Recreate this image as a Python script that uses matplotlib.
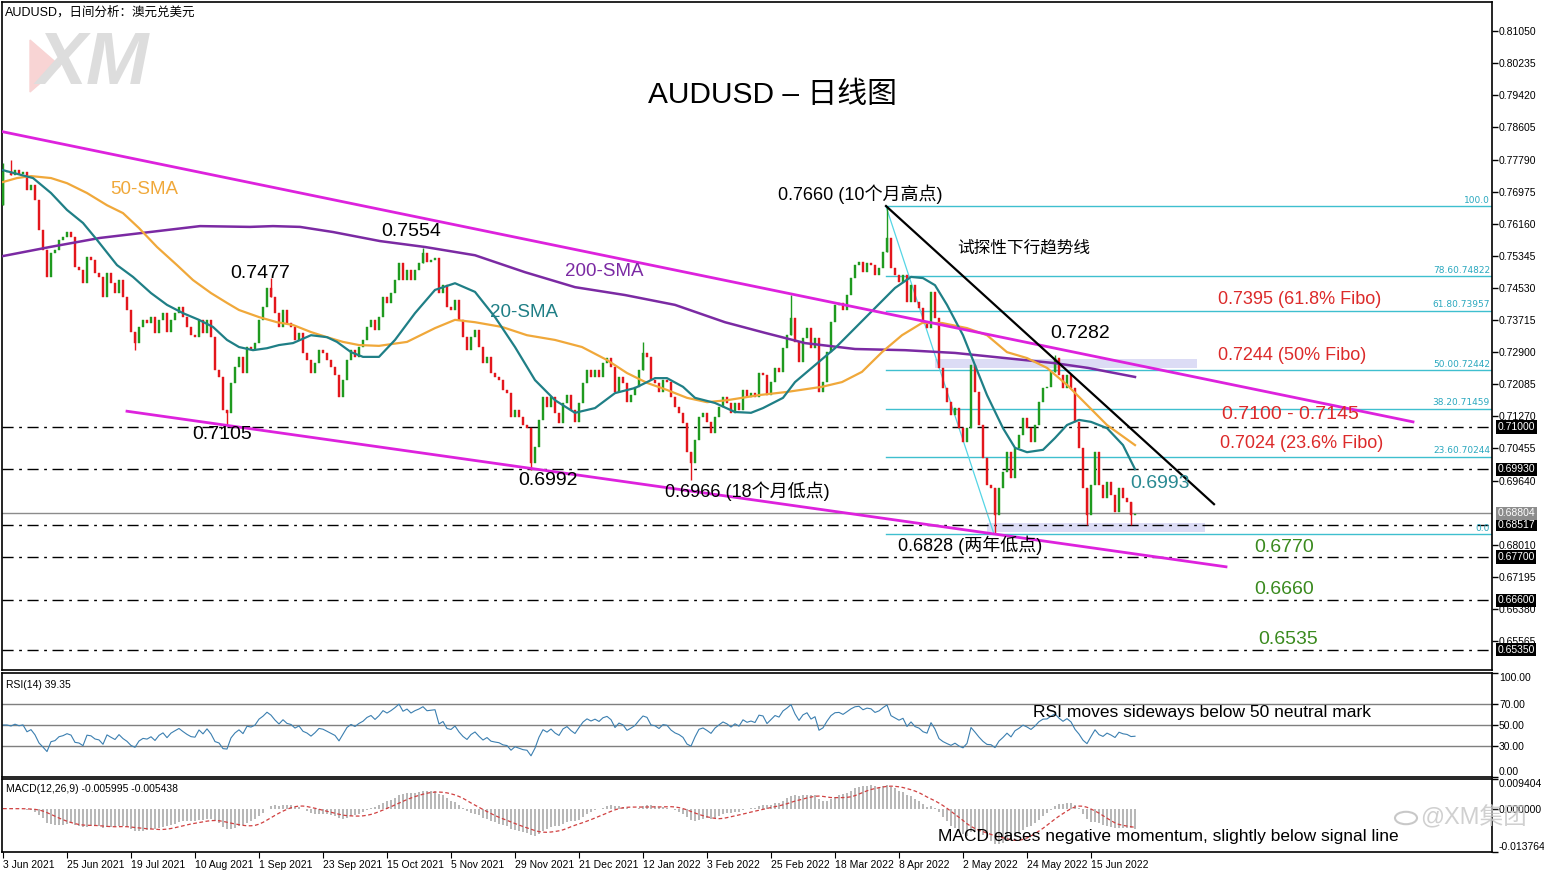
import numpy as np
import pandas as pd
import matplotlib
matplotlib.use("Agg")
import matplotlib.pyplot as plt
from matplotlib.patches import Rectangle, Polygon, Circle

plt.rcParams['font.family'] = ['Liberation Sans', 'Noto Sans CJK SC', 'DejaVu Sans']

# ---------------- data ----------------
first_open = 0.7663
closes = [
0.7747,0.7747,0.7740,0.7752,0.7742,0.7747,0.7702,0.7714,0.7676,0.7600,
0.7549,0.7481,0.7542,0.7549,0.7575,0.7582,0.7595,0.7582,0.7506,0.7498,
0.7465,0.7531,0.7524,0.7491,0.7481,0.7430,0.7491,0.7465,0.7440,0.7473,
0.7430,0.7397,0.7341,0.7313,0.7354,0.7372,0.7364,0.7379,0.7339,0.7372,
0.7389,0.7341,0.7372,0.7389,0.7405,0.7379,0.7354,0.7333,0.7328,0.7372,
0.7339,0.7372,0.7328,0.7245,0.7227,0.7143,0.7136,0.7212,0.7252,0.7278,
0.7237,0.7303,0.7295,0.7313,0.7372,0.7405,0.7453,0.7430,0.7389,0.7354,
0.7397,0.7364,0.7354,0.7321,0.7339,0.7288,0.7270,0.7237,0.7262,0.7295,
0.7288,0.7270,0.7252,0.7232,0.7176,0.7219,0.7270,0.7295,0.7278,0.7303,
0.7321,0.7354,0.7372,0.7346,0.7379,0.7430,0.7415,0.7440,0.7473,0.7516,
0.7473,0.7498,0.7473,0.7498,0.7516,0.7542,0.7519,0.7524,0.7529,0.7440,
0.7460,0.7405,0.7397,0.7422,0.7372,0.7328,0.7295,0.7328,0.7346,0.7303,
0.7262,0.7278,0.7237,0.7227,0.7219,0.7194,0.7186,0.7125,0.7143,0.7125,
0.7105,0.7097,0.7009,0.7049,0.7118,0.7176,0.7151,0.7176,0.7136,0.7110,
0.7161,0.7181,0.7143,0.7113,0.7161,0.7212,0.7245,0.7227,0.7245,0.7227,
0.7262,0.7275,0.7252,0.7189,0.7227,0.7212,0.7163,0.7181,0.7202,0.7245,
0.7288,0.7278,0.7219,0.7212,0.7189,0.7219,0.7214,0.7176,0.7151,0.7136,
0.7110,0.7036,0.7009,0.7067,0.7125,0.7136,0.7113,0.7085,0.7125,0.7151,
0.7176,0.7161,0.7136,0.7161,0.7143,0.7194,0.7176,0.7186,0.7176,0.7237,
0.7232,0.7181,0.7214,0.7250,0.7240,0.7300,0.7333,0.7377,0.7316,0.7265,
0.7326,0.7351,0.7300,0.7326,0.7189,0.7214,0.7290,0.7366,0.7410,0.7415,
0.7397,0.7435,0.7478,0.7511,0.7519,0.7493,0.7516,0.7511,0.7486,0.7504,
0.7544,0.7580,0.7504,0.7486,0.7468,0.7486,0.7417,0.7460,0.7417,0.7402,
0.7366,0.7351,0.7443,0.7377,0.7250,0.7199,0.7163,0.7130,0.7148,0.7097,
0.7062,0.7097,0.7257,0.7189,0.7105,0.7021,0.6953,0.6945,0.6877,0.6945,
0.6986,0.7036,0.6971,0.7047,0.7080,0.7123,0.7097,0.7062,0.7105,0.7163,
0.7199,0.7202,0.7240,0.7275,0.7232,0.7199,0.7232,0.7199,0.7113,0.7047,
0.6945,0.6877,0.6953,0.7036,0.6953,0.6920,0.6960,0.6927,0.6884,0.6945,
0.6920,0.6910,0.6877,0.6880]

wick_highs = {0: 0.7770, 2: 0.7778, 67: 0.7477, 105: 0.7554, 160: 0.7316,
              197: 0.7435, 221: 0.7660, 263: 0.7282}
wick_lows = {33: 0.7295, 56: 0.7105, 132: 0.6992, 172: 0.6966, 248: 0.6828,
             271: 0.6852, 282: 0.6852}

sma20_i = [0,7.5,12,16,20,23.5,28.5,32.5,37,41,45,49,52.5,56,59,62.5,66,69,72.5,77,
           81,83.5,87,90,94,98,103,108,113,118,123,128,133,138,143,148,153,158,163,166,
           170,173,178,183,187,190,195,198,203,208,213,218,223,227,230,233,236,240,243,246,
           250,253,256,260,263,266,269,272,276,280,283]
sma20_v = [0.7752,0.7732,0.7694,0.7651,0.7618,0.7575,0.7511,0.7481,0.7440,0.7410,
           0.7389,0.7372,0.7354,0.7321,0.7303,0.7295,0.7300,0.7308,0.7313,0.7333,
           0.7328,0.7316,0.7290,0.7278,0.7278,0.7321,0.7389,0.7448,0.7465,0.7443,
           0.7379,0.7303,0.7219,0.7168,0.7136,0.7148,0.7186,0.7199,0.7224,0.7224,
           0.7202,0.7174,0.7161,0.7138,0.7136,0.7148,0.7174,0.7214,0.7257,0.7300,
           0.7351,0.7402,0.7453,0.7481,0.7478,0.7460,0.7410,0.7333,0.7257,0.7181,
           0.7097,0.7047,0.7036,0.7042,0.7072,0.7105,0.7118,0.7113,0.7097,0.7054,0.6993]

sma50_i = [0,3.5,7,12,16,21,26,30,34,38.5,43.5,47.5,52,56,59,64,68.5,72.5,77,81,
           85,89,94,101,108,113,118,124.75,131,138,144.75,151,156,161,166,171,176,181,186,189,
           196,204.75,209.75,214.75,219.75,224.75,229.75,234.75,241,246,251,256,261,266,271,276,283]
sma50_v = [0.7722,0.7732,0.7737,0.7732,0.7719,0.7694,0.7663,0.7643,0.7605,0.7557,
           0.7511,0.7473,0.7440,0.7415,0.7397,0.7379,0.7366,0.7359,0.7341,0.7328,
           0.7316,0.7308,0.7306,0.7316,0.7351,0.7372,0.7366,0.7354,0.7333,0.7321,
           0.7303,0.7270,0.7237,0.7212,0.7194,0.7174,0.7163,0.7168,0.7176,0.7181,
           0.7189,0.7202,0.7214,0.7240,0.7290,0.7333,0.7364,0.7364,0.7351,0.7333,
           0.7290,0.7275,0.7250,0.7207,0.7156,0.7105,0.7054]

sma200_i = [0,11.75,24.25,36.75,49.25,61.75,67.5,74.25,82.5,94.25,105.5,118,130.5,143,
            155.5,168,180.5,190.5,200.5,213,225.5,238,250.5,263,271.25,283]
sma200_v = [0.7534,0.7557,0.7580,0.7595,0.7610,0.7608,0.7610,0.7608,0.7595,0.7572,
            0.7557,0.7536,0.7493,0.7455,0.7435,0.7410,0.7366,0.7339,0.7313,0.7298,
            0.7295,0.7288,0.7275,0.7262,0.7250,0.7227]

channel_upper_i = [-0.75, 352.5]
channel_upper_v = [0.7851, 0.7113]
channel_lower_i = [31, 305.75]
channel_lower_v = [0.7140, 0.6745]
trend_i = [220.75, 302.75]
trend_v = [0.7661, 0.6904]

fib_start_i = 220.75
fib_end_i = 247.75
fib_levels = [0.7660, 0.74822, 0.73957, 0.72442, 0.71459, 0.70244, 0.6828]
fib_labels = ["100.0", "78.60.74822", "61.80.73957", "50.00.72442", "38.20.71459", "23.60.70244", "0.0"]

hlines_dd = [0.7100, 0.6993, 0.68517, 0.6770, 0.6660, 0.6535]
current_price = 0.68804

main_ticks = [0.81050,0.80235,0.79420,0.78605,0.77790,0.76975,0.76160,0.75345,0.74530,
              0.73715,0.72900,0.72085,0.71270,0.70455,0.69640,0.68010,0.67195,0.66380,0.65565]
boxed_labels = [0.71000, 0.69930, 0.68517, 0.67700, 0.66600, 0.65350]

rsi_label = "RSI(14) 39.35"
macd_label = "MACD(12,26,9) -0.005995 -0.005438"

date_labels = ['3 Jun 2021','25 Jun 2021','19 Jul 2021','10 Aug 2021','1 Sep 2021',
               '23 Sep 2021','15 Oct 2021','5 Nov 2021','29 Nov 2021','21 Dec 2021',
               '12 Jan 2022','3 Feb 2022','25 Feb 2022','18 Mar 2022','8 Apr 2022',
               '2 May 2022','24 May 2022','15 Jun 2022']
date_step = 16

# ---------------- figure ----------------
W, H = 1544, 872
fig = plt.figure(figsize=(W/100, H/100), dpi=100)

def fx(x): return x / W
def fy(y): return 1 - y / H

TICKFONT = dict(family='Liberation Sans', fontsize=7.5)

left, right = 2, 1492
ax = fig.add_axes([fx(left), fy(670), fx(right-left), fy(2)-fy(670)])
ax_rsi = fig.add_axes([fx(left), fy(777), fx(right-left), fy(673)-fy(777)], sharex=ax)
ax_macd = fig.add_axes([fx(left), fy(852), fx(right-left), fy(779)-fy(852)], sharex=ax)

n = len(closes)
idx = np.arange(n)
c = np.array(closes)
o = np.concatenate([[first_open], c[:-1]])
GREEN, RED = '#1f9a1f', '#e3161c'

# candles
for i in range(n):
    col = GREEN if c[i] >= o[i] else RED
    top, bot = max(o[i], c[i]), min(o[i], c[i])
    hi = wick_highs.get(i, top)
    lo = wick_lows.get(i, bot)
    if hi > top or lo < bot:
        ax.vlines(i, lo, hi, color=col, lw=1, zorder=3)
    ax.bar(i, max(top - bot, 0.00012), bottom=bot, width=0.62, color=col,
           edgecolor=col, linewidth=0.3, zorder=3)

# moving averages
ax.plot(sma200_i, sma200_v, color='#7b2aa3', lw=1.8, zorder=4)
ax.plot(sma50_i, sma50_v, color='#f0a83a', lw=1.6, zorder=4)
ax.plot(sma20_i, sma20_v, color='#1f7f86', lw=1.6, zorder=4)

# channel & trend
ax.plot(channel_upper_i, channel_upper_v, color='#dd22dd', lw=2, zorder=5)
ax.plot(channel_lower_i, channel_lower_v, color='#dd22dd', lw=2, zorder=5)
ax.plot(trend_i, trend_v, color='black', lw=1.6, zorder=5)

# fibonacci
xmax = (right - 3) / 4
for lv, lb in zip(fib_levels, fib_labels):
    ax.plot([fib_start_i, xmax], [lv, lv], color='#3fbfcf', lw=1, zorder=2)
    ax.text(xmax - 0.5, lv + 0.0004, lb, color='#2aa8bf', fontsize=6.5,
            ha='right', va='bottom', family='DejaVu Sans', zorder=6)
ax.plot([fib_start_i, fib_end_i], [fib_levels[0], fib_levels[-1]], color='#55d5e5', lw=0.9, zorder=2)

# shaded zones
ax.add_patch(Rectangle((233, 0.7250), 65.5, 0.0022, color='#dcdcf5', zorder=1, lw=0))
ax.add_patch(Rectangle((246, 0.6833), 54.5, 0.0023, color='#dcdcf5', zorder=1, lw=0))

# horizontal lines
for lv in hlines_dd:
    ax.axhline(lv, color='black', lw=1, ls=(0, (8, 4, 2, 4)), zorder=2)
ax.axhline(current_price, color='#8c8c8c', lw=1, zorder=2)

ax.set_xlim(-0.25, xmax)
ax.set_ylim(0.6483, 0.8179)

for a in (ax, ax_rsi, ax_macd):
    a.yaxis.tick_right()
    a.tick_params(axis='y', direction='out', length=4, width=1, pad=1)
    for s in a.spines.values():
        s.set_linewidth(1.2)
ax.set_yticks(main_ticks)
ax.set_yticklabels([f"{t:.5f}" for t in main_ticks], **TICKFONT)
ax.tick_params(axis='x', bottom=False, labelbottom=False)
ax_rsi.tick_params(axis='x', bottom=False, labelbottom=False)

def boxed(axis, val, fc):
    axis.annotate(f"{val:.5f}", xy=(1, val), xycoords=('axes fraction', 'data'),
                  xytext=(4, 0), textcoords='offset points', va='center', ha='left',
                  color='white', bbox=dict(boxstyle='square,pad=0.15', fc=fc, ec='none'),
                  annotation_clip=False, zorder=10, **TICKFONT)
for lv in boxed_labels:
    boxed(ax, lv, 'black')
boxed(ax, current_price, '#8c8c8c')

# ---------------- RSI ----------------
period = 14
avg_g, avg_l = 0.0015, 0.0015
rsi = []
for i in range(n):
    if i > 0:
        d = c[i] - c[i-1]
        avg_g = (avg_g * (period - 1) + max(d, 0)) / period
        avg_l = (avg_l * (period - 1) + max(-d, 0)) / period
    rsi.append(100 - 100 / (1 + avg_g / avg_l) if avg_l > 0 else 100)
rsi = np.array(rsi)
for lv in (70, 50, 30):
    ax_rsi.axhline(lv, color='#7f7f7f', lw=1)
ax_rsi.plot(idx, rsi, color='#3b7fb0', lw=0.8)
ax_rsi.set_ylim(0, 100)
ax_rsi.set_yticks([0, 30, 50, 70, 100])
labs = ax_rsi.set_yticklabels(['0.00', '30.00', '50.00', '70.00', '100.00'], **TICKFONT)
labs[0].set_va('bottom'); labs[-1].set_va('top')
ax_rsi.text(0.003, 0.93, rsi_label, transform=ax_rsi.transAxes, va='top', **TICKFONT)

# ---------------- MACD ----------------
cs = pd.Series(c)
macd = cs.ewm(span=12, adjust=False).mean() - cs.ewm(span=26, adjust=False).mean()
signal = macd.rolling(9, min_periods=1).mean()
ax_macd.bar(idx, macd.values, width=0.45, color='#b8b8b8', zorder=2)
ax_macd.plot(idx, signal.values, color='#d04040', lw=0.9, ls=(0, (3, 2)), zorder=3)
ax_macd.set_ylim(-0.013764, 0.009404)
ax_macd.set_yticks([-0.013764, 0.0, 0.009404])
labs = ax_macd.set_yticklabels(['-0.013764', '0.000000', '0.009404'], **TICKFONT)
labs[0].set_va('bottom'); labs[-1].set_va('top')
ax_macd.text(0.003, 0.93, macd_label, transform=ax_macd.transAxes, va='top', **TICKFONT)

ticks = [k * date_step for k in range(len(date_labels))]
ax_macd.set_xticks(ticks)
ax_macd.set_xticklabels(date_labels, ha='left', **TICKFONT)
ax_macd.tick_params(axis='x', direction='out', length=4, pad=2)

# ---------------- annotations ----------------
def ft(x, y, s, **kw):
    fig.text(fx(x), fy(y), s, va='center', ha='left', **kw)

# watermark logo
fig.patches.append(Polygon([[fx(30), fy(40)], [fx(60), fy(66)], [fx(30), fy(92)]], closed=True,
                           transform=fig.transFigure, color='#f8d4d4', zorder=0))
ft(36, 64, "XM", fontsize=54, fontweight='bold', style='italic', color='#dddddd', zorder=0)

ft(5, 12, "AUDUSD，日间分析：澳元兑美元", fontsize=9)
fig.text(fx(773), fy(95), "AUDUSD – 日线图", ha='center', va='center', fontsize=21.5)

ft(110, 190, "50-SMA", fontsize=13.5, color='#f0a83a')
ft(565, 272, "200-SMA", fontsize=13.5, color='#7b2aa3')
ft(490, 312, "20-SMA", fontsize=13.5, color='#1f7f86')
ft(230, 273, "0.7477", fontsize=14)
ft(381, 231, "0.7554", fontsize=14)
ft(192, 434, "0.7105", fontsize=14)
ft(518, 480, "0.6992", fontsize=14)
ft(665, 491, "0.6966 (18个月低点)", fontsize=13)
ft(778, 194, "0.7660 (10个月高点)", fontsize=13)
ft(957, 248, "试探性下行趋势线", fontsize=12)
ft(1050, 334, "0.7282", fontsize=14)
RC = '#dc2a2a'
ft(1218, 299, "0.7395 (61.8% Fibo)", fontsize=13, color=RC)
ft(1218, 355, "0.7244 (50% Fibo)", fontsize=13, color=RC)
ft(1222, 414, "0.7100 - 0.7145", fontsize=14, color=RC)
ft(1220, 444, "0.7024 (23.6% Fibo)", fontsize=13, color=RC)
ft(1130, 483, "0.6993", fontsize=14, color='#2a8a92')
ft(898, 545, "0.6828 (两年低点)", fontsize=13)
GC = '#3a8a1e'
ft(1254, 548, "0.6770", fontsize=14, color=GC)
ft(1254, 589, "0.6660", fontsize=14, color=GC)
ft(1258, 639, "0.6535", fontsize=14, color=GC)
ft(1033, 712, "RSI moves sideways below 50 neutral mark", fontsize=12.5)
ft(938, 836, "MACD eases negative momentum, slightly below signal line", fontsize=12.5)

# social watermark
fig.patches.append(Circle((fx(1406), fy(818)), 11/W, transform=fig.transFigure,
                          fill=False, ec='#c8c8c8', lw=1.5, zorder=20))
ft(1420, 818, "@XM集团", fontsize=17, color='#c8c8c8', alpha=0.85, zorder=20)

fig.savefig("out.png", dpi=100)
